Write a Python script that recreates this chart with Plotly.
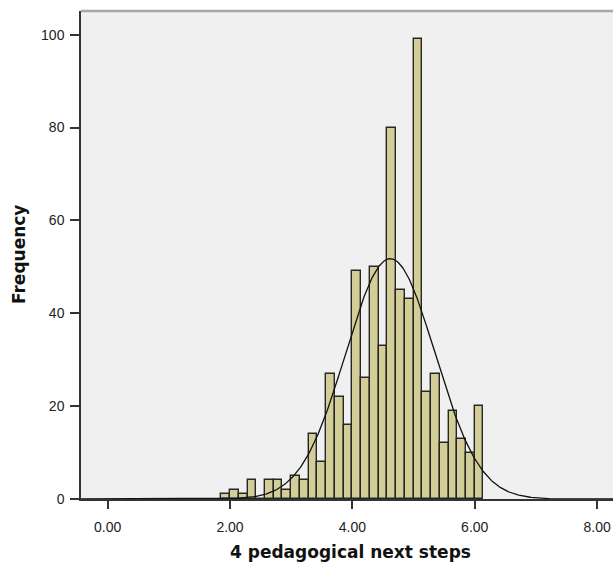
import numpy as np
import plotly.graph_objects as go

# ---- data ----
bin_start = 13 / 7          # left edge of first bin
bin_width = 1 / 7
counts = [1, 2, 1, 4, 0, 4, 4, 2, 5, 4,
          14, 8, 27, 22, 16, 49, 26, 50, 33, 80,
          45, 43, 99, 23, 27, 12, 19, 13, 10, 20]
curve_mean = 4.62
curve_sd = 0.73
x_tick_vals = [0, 2, 4, 6, 8]
x_tick_text = ["0.00", "2.00", "4.00", "6.00", "8.00"]
y_tick_vals = [0, 20, 40, 60, 80, 100]
x_title = "4 pedagogical next steps"
y_title = "Frequency"

n_total = sum(counts)
centers = [bin_start + (i + 0.5) * bin_width for i in range(len(counts))]

x_range = [-0.436, 8.26]
y_range = [0, 105.1]

xc = np.linspace(x_range[0], x_range[1], 600)
yc = n_total * bin_width / (curve_sd * np.sqrt(2 * np.pi)) * np.exp(-0.5 * ((xc - curve_mean) / curve_sd) ** 2)

fig = go.Figure()
fig.add_trace(go.Bar(
    x=centers, y=counts, width=[bin_width] * len(counts),
    marker=dict(color="#D3CE98", line=dict(color="#262626", width=1.4)),
    hoverinfo="skip",
))
fig.add_trace(go.Scatter(
    x=xc, y=yc, mode="lines",
    line=dict(color="#111111", width=1.3),
    hoverinfo="skip",
))

tick_font = dict(family="Liberation Sans, Arial, sans-serif", size=14, color="#222222")
title_font = dict(family="DejaVu Sans, sans-serif", size=17, color="#111111")

fig.update_layout(
    width=613, height=566,
    margin=dict(l=81, r=0, t=11, b=67),
    paper_bgcolor="white",
    plot_bgcolor="#F0F0F0",
    showlegend=False,
    bargap=0,
    xaxis=dict(
        range=x_range, tickvals=x_tick_vals, ticktext=x_tick_text,
        ticks="outside", ticklen=8, tickwidth=1.5, tickcolor="#333333",
        showline=True, linecolor="#333333", linewidth=1.5,
        showgrid=False, zeroline=False, tickfont=tick_font,
        ticklabelstandoff=6,
    ),
    yaxis=dict(
        range=y_range, tickvals=y_tick_vals,
        ticks="outside", ticklen=9, tickwidth=1.5, tickcolor="#333333",
        showline=True, linecolor="#333333", linewidth=1.5,
        showgrid=False, zeroline=False, tickfont=tick_font,
        ticklabelstandoff=3,
    ),
    shapes=[dict(type="line", xref="paper", yref="paper", x0=0, x1=1, y0=1, y1=1,
                 line=dict(color="#A8A8A8", width=2.5))],
    annotations=[
        dict(text="<b>" + x_title + "</b>", xref="paper", yref="paper",
             x=0.5075, y=-0.1086, xanchor="center", yanchor="middle",
             showarrow=False, font=title_font),
        dict(text="<b>" + y_title + "</b>", xref="paper", yref="paper",
             x=-0.1165, y=0.502, xanchor="center", yanchor="middle",
             textangle=-90, showarrow=False, font=title_font),
    ],
)

fig.write_html("out.html")
